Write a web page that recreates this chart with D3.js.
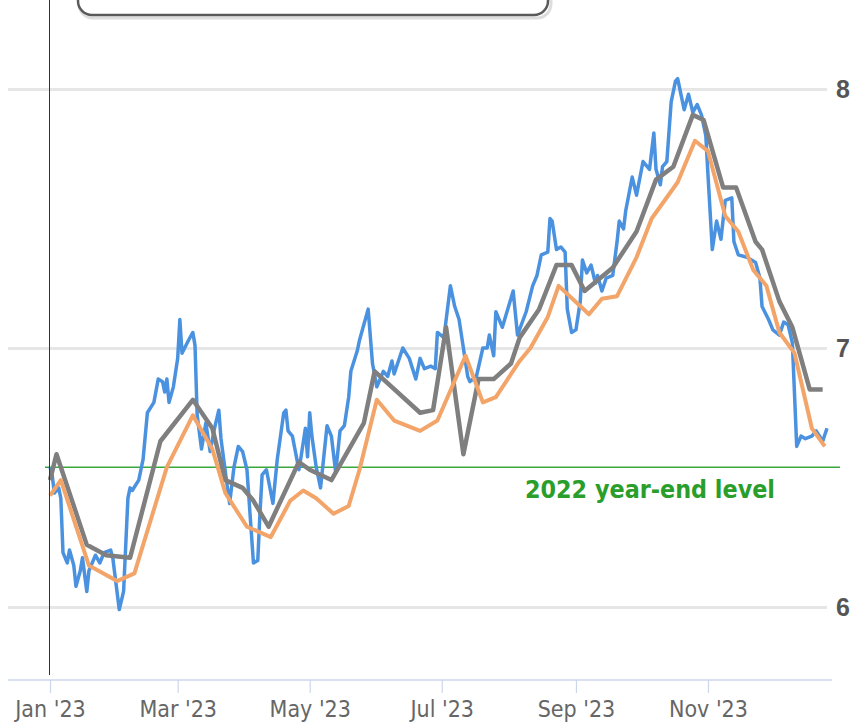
<!DOCTYPE html>
<html><head><meta charset="utf-8">
<script src="https://cdn.jsdelivr.net/npm/d3@7"></script>
<style>
body{margin:0;background:#fff;}
svg{display:block;}
</style></head><body>
<svg id="chart" width="868" height="725"></svg>
<script>
// Daily rate (blue)
const blueDates = ["01-01","01-02","01-03","01-05","01-06","01-07","01-09","01-10","01-12","01-13","01-15","01-16","01-18","01-19","01-22","01-24","01-26","01-29","01-30",
"02-02","02-04","02-06","02-07","02-08","02-11","02-13","02-15","02-18","02-20","02-22","02-23","02-24","02-25","02-27",
"03-01","03-02","03-03","03-06","03-08","03-09","03-10","03-12","03-14","03-16","03-18","03-20","03-21","03-24","03-25","03-27","03-29","03-31",
"04-02","04-05","04-07","04-08","04-09","04-11","04-14","04-16","04-19","04-20","04-21","04-23","04-26","04-27","04-29","04-30",
"05-01","05-02","05-04","05-06","05-07","05-09","05-11","05-13","05-15","05-17","05-19","05-20","05-23","05-24","05-28","05-30",
"06-01","06-04","06-06","06-08","06-09","06-13","06-16","06-19","06-21","06-23","06-26","06-28","06-29",
"07-02","07-05","07-07","07-09","07-13","07-14","07-17","07-20","07-22","07-23","07-25","07-26","07-29",
"08-03","08-05","08-09","08-12","08-14","08-16","08-19","08-20","08-21","08-23","08-25","08-27","08-28","08-30",
"09-01","09-03","09-04","09-06","09-08","09-10","09-11","09-13","09-15","09-18","09-20","09-21","09-23","09-24","09-27","09-29",
"10-02","10-05","10-07","10-08","10-10","10-11","10-13","10-15","10-17","10-18","10-21","10-23","10-25","10-27","10-29","10-31",
"11-01","11-03","11-05","11-07","11-09","11-12","11-13","11-15","11-19","11-23","11-25","11-26","11-29",
"12-01","12-04","12-06","12-08","12-10","12-12","12-14","12-16","12-19","12-21","12-24","12-26"];
const blueValues = [6.54,6.51,6.44,6.46,6.42,6.21,6.17,6.22,6.16,6.08,6.14,6.19,6.06,6.14,6.20,6.17,6.21,6.22,6.19,
5.99,6.06,6.42,6.46,6.45,6.49,6.57,6.75,6.79,6.88,6.87,6.83,6.88,6.79,6.85,
6.96,7.11,6.98,7.03,7.06,7.01,6.74,6.61,6.71,6.60,6.69,6.76,6.65,6.46,6.40,6.54,6.62,6.60,
6.53,6.17,6.18,6.36,6.51,6.53,6.40,6.57,6.75,6.76,6.68,6.66,6.53,6.58,6.69,6.58,
6.75,6.66,6.54,6.46,6.54,6.70,6.66,6.52,6.68,6.70,6.81,6.91,6.99,7.03,7.15,6.94,
6.85,6.91,6.89,6.95,6.90,7.00,6.96,6.88,6.96,6.92,6.93,6.92,7.06,
7.04,7.24,7.16,7.11,6.89,6.87,6.89,7.00,7.00,7.05,6.97,7.14,7.08,
7.22,7.05,7.14,7.24,7.28,7.36,7.37,7.50,7.49,7.38,7.39,7.37,7.15,7.06,
7.07,7.18,7.34,7.29,7.32,7.25,7.28,7.22,7.27,7.28,7.41,7.49,7.46,7.53,7.66,7.59,
7.72,7.69,7.83,7.69,7.63,7.70,7.72,7.95,8.03,8.04,7.92,7.98,7.91,7.94,7.90,7.82,
7.67,7.38,7.49,7.42,7.57,7.58,7.41,7.36,7.35,7.33,7.27,7.16,7.11,
7.07,7.05,7.10,7.09,7.02,6.62,6.66,6.65,6.66,6.68,6.64,6.69];

// Gray series
const grayDates = ["01-01","01-04","01-18","01-27","02-07","02-21","03-08","03-17","03-23","03-31","04-05","04-12","04-26","05-01","05-11","05-26","05-31","06-21","06-27","07-03","07-11","07-18","07-25","08-02","08-06","08-15","08-23","08-30","09-05","09-18","09-29","10-08","10-16","10-25","10-30","11-08","11-14","11-23","11-26","12-04","12-10","12-18","12-24"];
const grayValues = [6.49,6.59,6.24,6.20,6.19,6.64,6.80,6.69,6.49,6.46,6.41,6.31,6.56,6.53,6.49,6.71,6.91,6.75,6.76,7.08,6.59,6.88,6.88,6.94,7.04,7.15,7.32,7.32,7.22,7.31,7.45,7.65,7.70,7.90,7.88,7.62,7.62,7.41,7.38,7.18,7.08,6.84,6.84];

// Orange series
const orangeDates = ["01-01","01-06","01-19","02-01","02-09","02-24","03-08","03-17","03-23","04-02","04-13","04-22","04-28","05-04","05-12","05-19","05-24","06-01","06-09","06-21","06-29","07-12","07-20","07-26","08-06","08-11","08-19","08-24","09-07","09-13","09-20","09-29","10-06","10-18","10-26","11-01","11-09","11-15","11-22","11-28","12-04","12-11","12-19","12-25"];
const orangeValues = [6.43,6.49,6.16,6.10,6.13,6.54,6.74,6.61,6.44,6.31,6.27,6.41,6.45,6.42,6.36,6.39,6.53,6.80,6.72,6.68,6.72,6.97,6.79,6.81,6.95,7.00,7.12,7.24,7.13,7.19,7.20,7.35,7.50,7.64,7.80,7.76,7.51,7.45,7.30,7.24,7.06,6.98,6.69,6.62];

const yearEnd2022 = 6.54;
const yearEndLabel = "2022 year-end level";
const xTickDates = ["2023-01-01","2023-03-01","2023-05-01","2023-07-01","2023-09-01","2023-11-01"];
const yTickValues = [6, 7, 8];

const parse = d3.utcParse("%Y-%m-%d");
const md = s => parse("2023-" + s);
const toSeries = (ds, vs) => ds.map((d, i) => ({date: md(d), v: vs[i]}));
const blue = toSeries(blueDates, blueValues);
const gray = toSeries(grayDates, grayValues);
const orange = toSeries(orangeDates, orangeValues);

const svg = d3.select("#chart");
const x = d3.scaleUtc().domain([parse("2023-01-01"), parse("2023-12-26")]).range([50, 827]);
const y = d3.scaleLinear().domain([6, 8]).range([607, 89]);

// Legend box (top, partially cut)
svg.append("rect").attr("x", 79).attr("y", -40).attr("width", 472).attr("height", 58)
  .attr("rx", 14).attr("fill", "none").attr("stroke", "#ddd").attr("stroke-width", 3);
svg.append("rect").attr("x", 78).attr("y", -40).attr("width", 470).attr("height", 55)
  .attr("rx", 14).attr("fill", "#fff").attr("stroke", "#5a5a5a").attr("stroke-width", 2.5);

// Gridlines + right labels
const yAxis = svg.append("g").attr("transform", "translate(8,0)")
  .call(d3.axisRight(y).tickValues(yTickValues).tickSize(819).tickPadding(9).tickFormat(d3.format("d")));
yAxis.select(".domain").remove();
yAxis.selectAll(".tick line").attr("stroke", "#e6e6e6").attr("stroke-width", 3);
yAxis.selectAll(".tick text").attr("fill", "#555").attr("font-size", 25).attr("font-weight", "bold")
  .attr("font-family", "'Liberation Sans', Arial, sans-serif");

// X axis
svg.append("line").attr("x1", 8).attr("x2", 832).attr("y1", 680).attr("y2", 680)
  .attr("stroke", "#ccd6eb").attr("stroke-width", 1.5);
const xAxis = svg.append("g").attr("transform", "translate(0,680)")
  .call(d3.axisBottom(x).tickValues(xTickDates.map(parse)).tickFormat(d3.utcFormat("%b '%y")).tickSize(13).tickPadding(8));
xAxis.select(".domain").remove();
xAxis.selectAll(".tick line").attr("stroke", "#ccd6eb").attr("stroke-width", 1.2);
xAxis.selectAll(".tick text").attr("fill", "#666").attr("font-size", 23)
  .attr("font-family", "'Liberation Sans Narrow', 'DejaVu Sans Condensed', 'Roboto Condensed', sans-serif")
  .style("font-stretch", "condensed");

// Year-end reference line
svg.append("line").attr("x1", 45).attr("x2", 840).attr("y1", y(yearEnd2022)).attr("y2", y(yearEnd2022))
  .attr("stroke", "#3aa83a").attr("stroke-width", 1.5);
svg.append("text").attr("x", 525).attr("y", y(yearEnd2022) + 31).text(yearEndLabel)
  .attr("fill", "#2a9e2a").attr("font-size", 25).attr("font-weight", "bold")
  .attr("font-family", "'Liberation Sans Narrow', 'DejaVu Sans Condensed', sans-serif")
  .attr("textLength", 250).attr("lengthAdjust", "spacingAndGlyphs");

// Lines
const line = d3.line().x(d => x(d.date)).y(d => y(d.v));
svg.append("path").datum(blue).attr("d", line).attr("fill", "none")
  .attr("stroke", "#4a92e0").attr("stroke-width", 3.5).attr("stroke-linejoin", "round");
svg.append("path").datum(gray).attr("d", line).attr("fill", "none")
  .attr("stroke", "#7f7f7f").attr("stroke-width", 4.5).attr("stroke-linejoin", "round");
svg.append("path").datum(orange).attr("d", line).attr("fill", "none")
  .attr("stroke", "#f2a469").attr("stroke-width", 4).attr("stroke-linejoin", "round");

// Left vertical axis line
svg.append("line").attr("x1", 49.5).attr("x2", 49.5).attr("y1", 0).attr("y2", 675)
  .attr("stroke", "#333").attr("stroke-width", 1);
</script>
</body></html>
